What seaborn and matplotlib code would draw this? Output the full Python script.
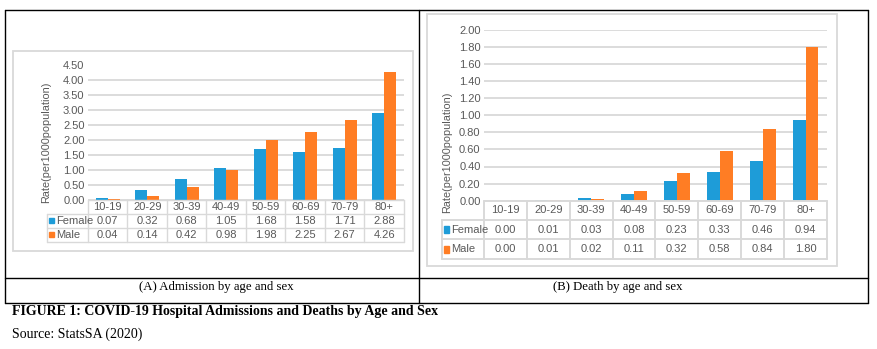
import matplotlib

matplotlib.use("Agg")
import matplotlib.pyplot as plt
import numpy as np
import pandas as pd
import seaborn as sns
from matplotlib.lines import Line2D
from matplotlib.patches import Rectangle
from matplotlib.ticker import FormatStrFormatter

# ---------------------------------------------------------------------------
# Data
# ---------------------------------------------------------------------------
AGE_GROUPS = ["10-19", "20-29", "30-39", "40-49", "50-59", "60-69", "70-79", "80+"]
ADMISSION_FEMALE = [0.07, 0.32, 0.68, 1.05, 1.68, 1.58, 1.71, 2.88]
ADMISSION_MALE = [0.04, 0.14, 0.42, 0.98, 1.98, 2.25, 2.67, 4.26]
DEATH_FEMALE = [0.00, 0.01, 0.03, 0.08, 0.23, 0.33, 0.46, 0.94]
DEATH_MALE = [0.00, 0.01, 0.02, 0.11, 0.32, 0.58, 0.84, 1.80]
SEXES = ["Female", "Male"]

BLUE = "#1e9cd8"
ORANGE = "#ff7d24"
GRID = "#d9d9d9"
TXT = "#595959"
SANS = "Liberation Sans"
SERIF = "Liberation Serif"
FS = 8

W, H = 878, 349

sns.set_theme(style="white")
plt.rcParams["font.family"] = [SANS, "DejaVu Sans"]

fig = plt.figure(figsize=(W / 100, H / 100), dpi=100)


def fx(px):
    return px / W


def fy(py):
    return 1 - py / H


def add_line(x0, y0, x1, y1, color="black", lw=1.0):
    fig.add_artist(Line2D([fx(x0), fx(x1)], [fy(y0), fy(y1)], color=color, lw=lw, transform=fig.transFigure))


def add_box(x0, y0, x1, y1, color, lw):
    fig.add_artist(
        Rectangle((fx(x0), fy(y1)), fx(x1 - x0), (y1 - y0) / H, fill=False, edgecolor=color, lw=lw,
                  transform=fig.transFigure)
    )


def draw_panel(female, male, ymax, ystep, box, table, label_left, key_h, ylab_xy, hide_top_grid, tlw):
    """Draw bar chart with an Excel-style data table below it."""
    left, right, top, bottom = box
    ax = fig.add_axes([fx(left), fy(bottom), fx(right - left), (bottom - top) / H])
    df = pd.DataFrame(
        {
            "Age": AGE_GROUPS * 2,
            "Rate": female + male,
            "Sex": [SEXES[0]] * len(female) + [SEXES[1]] * len(male),
        }
    )
    sns.barplot(data=df, x="Age", y="Rate", hue="Sex", palette=[BLUE, ORANGE], width=0.6,
                saturation=1, errorbar=None, legend=False, linewidth=0, ax=ax)
    ax.set_xlim(-0.5, len(AGE_GROUPS) - 0.5)
    ax.set_ylim(0, ymax)
    ax.set_yticks(np.arange(0, ymax + 1e-9, ystep))
    ax.yaxis.set_major_formatter(FormatStrFormatter("%.2f"))
    ax.grid(axis="y", color=GRID, lw=1.3)
    ax.set_axisbelow(True)
    if hide_top_grid:
        ax.yaxis.get_gridlines()[-1].set_visible(False)
    ax.set_xticks([])
    ax.set_xlabel("")
    ax.set_ylabel("Rate(per1000population)", fontsize=7.8, color=TXT)
    ax.yaxis.set_label_coords(*ylab_xy)
    for s in ax.spines.values():
        s.set_visible(False)
    ax.tick_params(axis="y", length=0, pad=2.5, labelsize=FS, labelcolor=TXT)
    ax.patch.set_alpha(0)

    # data table
    tb_bottom = table
    ax_t = fig.add_axes([fx(left), fy(tb_bottom), fx(right - left), (tb_bottom - bottom) / H])
    ax_t.set_xlim(-0.5, len(AGE_GROUPS) - 0.5)
    ax_t.set_ylim(3, 0)
    ax_t.axis("off")
    ppu = (right - left) / len(AGE_GROUPS)
    row_h = (tb_bottom - bottom) / 3
    x_lab = -0.5 - (left - label_left) / ppu
    n = len(AGE_GROUPS)
    kw = dict(color=GRID, lw=tlw, clip_on=False)
    ax_t.plot([-0.5, n - 0.5], [0, 0], **kw)
    for r in (1, 2, 3):
        ax_t.plot([x_lab, n - 0.5], [r, r], **kw)
    for k in range(n + 1):
        ax_t.plot([-0.5 + k, -0.5 + k], [0, 3], **kw)
    ax_t.plot([x_lab, x_lab], [1, 3], **kw)

    tkw = dict(ha="center", va="center", fontsize=FS, color=TXT, clip_on=False)
    for i, age in enumerate(AGE_GROUPS):
        ax_t.text(i, 0.5, age, **tkw)
        ax_t.text(i, 1.5, f"{female[i]:.2f}", **tkw)
        ax_t.text(i, 2.5, f"{male[i]:.2f}", **tkw)
    for r, (sex, col) in enumerate(zip(SEXES, [BLUE, ORANGE]), start=1):
        kh = key_h / row_h
        ax_t.add_patch(Rectangle((x_lab + 2.5 / ppu, r + 0.5 - kh / 2), 5 / ppu, kh, color=col, clip_on=False))
        ax_t.text(x_lab + 9 / ppu, r + 0.5, sex, ha="left", va="center", fontsize=FS, color=TXT, clip_on=False)


# panel boxes (light gray chart areas)
add_box(13, 51, 413, 251, GRID, 1.3)
add_box(427, 14, 837, 266, GRID, 1.3)

draw_panel(ADMISSION_FEMALE, ADMISSION_MALE, 4.5, 0.5, (88, 404, 64.7, 199.7), 242, 46.7, 5,
           (-0.117, 0.424), True, 1.0)
draw_panel(DEATH_FEMALE, DEATH_MALE, 2.0, 0.2, (484, 827, 29.7, 200.7), 258.7, 442, 7,
           (-0.094, 0.285), False, 1.4)

# outer layout table
add_line(5, 10, 868, 10)
add_line(5, 303, 868, 303)
add_line(5, 10, 5, 303)
add_line(868, 10, 868, 303)
add_line(419, 10, 419, 303)
add_line(5, 278, 868, 278)

fig.text(fx(216.5), fy(287), "(A) Admission by age and sex", ha="center", va="center", fontsize=9.2,
         family=SERIF, color="black")
fig.text(fx(618), fy(287), "(B) Death by age and sex", ha="center", va="center", fontsize=9.2,
         family=SERIF, color="black")
fig.text(fx(12), fy(311.5), "FIGURE 1: COVID-19 Hospital Admissions and Deaths by Age and Sex", ha="left",
         va="center", fontsize=10, family=SERIF, weight="bold", color="black")
fig.text(fx(12), fy(334.5), "Source: StatsSA (2020)", ha="left", va="center", fontsize=10, family=SERIF,
         color="black")

fig.savefig("out.png", dpi=100)
